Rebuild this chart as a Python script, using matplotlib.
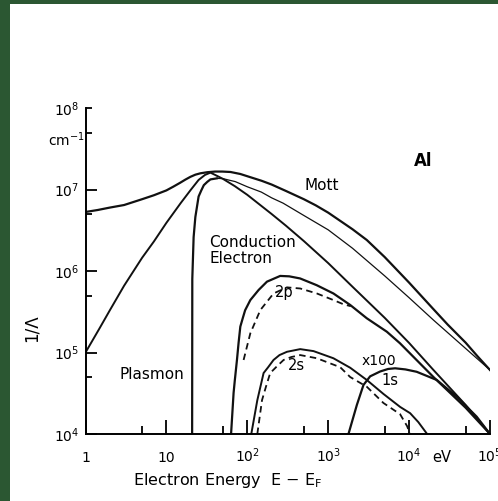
import matplotlib
matplotlib.use("Agg")
import matplotlib.pyplot as plt
from matplotlib.patches import Rectangle

# ---- inverse inelastic mean free path of electrons in Al (cm^-1) ----
mott_E = [1, 1.41, 2, 3, 5, 7, 10, 12.2, 14.8, 17.1, 19.8, 22.8, 26.3, 32,
          40, 49, 62, 82, 108, 150, 200, 300, 500, 700, 1000, 2000, 3000,
          5000, 1e4, 2e4, 3e4, 5e4, 7e4, 1e5]
mott_val = [5.3e6, 5.6e6, 6.0e6, 6.45e6, 7.6e6, 8.5e6, 9.75e6, 1.085e7,
            1.21e7, 1.32e7, 1.43e7, 1.52e7, 1.58e7, 1.63e7, 1.66e7, 1.66e7,
            1.64e7, 1.55e7, 1.42e7, 1.28e7, 1.15e7, 9.6e6, 7.6e6, 6.4e6,
            5.2e6, 3.25e6, 2.4e6, 1.48e6, 7.2e5, 3.4e5, 2.2e5, 1.32e5, 9.0e4,
            6.1e4]

plasmon_E = [20.8, 20.9, 21.7, 22.8, 25, 27, 29, 32, 35, 42, 50, 60, 71, 100,
             149, 200, 277, 500, 1000, 2000, 5000, 1e4, 2e4, 5e4, 1e5]
plasmon_val = [1e4, 8e5, 2.6e6, 4.6e6, 8.2e6, 9.75e6, 1.13e7, 1.24e7, 1.33e7,
               1.37e7, 1.36e7, 1.30e7, 1.25e7, 1.08e7, 9.3e6, 7.9e6, 6.8e6,
               4.8e6, 3.2e6, 1.9e6, 8.7e5, 4.7e5, 2.5e5, 1.12e5, 6.1e4]
plasmon_peak_index = 9

cond_E = [1, 1.5, 2, 3, 5, 7, 10, 15, 20, 25, 30, 35, 40, 50, 70, 100, 200,
          300, 500, 1000, 2000, 5000, 1e4, 2e4, 5e4, 1e5]
cond_val = [1.0e5, 2.0e5, 3.3e5, 6.6e5, 1.45e6, 2.3e6, 3.9e6, 6.8e6, 9.9e6,
            1.31e7, 1.51e7, 1.61e7, 1.51e7, 1.35e7, 1.10e7, 8.6e6, 5.0e6,
            3.6e6, 2.33e6, 1.25e6, 6.4e5, 2.66e5, 1.31e5, 6.1e4, 2.27e4, 1.0e4]

p2_E = [63, 67.7, 70, 74.5, 78, 82, 88, 94, 109, 138, 175, 255, 330, 450,
        720, 1160, 1870, 3000, 5300, 7700, 2e4, 5e4, 1e5]
p2_val = [1e4, 3.2e4, 4.5e4, 8.1e4, 1.31e5, 2.08e5, 2.65e5, 3.3e5, 4.4e5,
          5.85e5, 7.4e5, 8.7e5, 8.6e5, 8.1e5, 6.7e5, 5.3e5, 3.83e5, 2.63e5,
          1.8e5, 1.3e5, 5.0e4, 2.1e4, 1e4]

p2_dash_E = [90, 109, 145, 211, 309, 451, 724, 1160, 1550, 1900]
p2_dash_val = [8.1e4, 1.72e5, 3.32e5, 5.3e5, 6.3e5, 6.1e5, 5.3e5, 4.4e5,
               3.9e5, 3.7e5]

s2_E = [112, 133, 159, 180, 211, 250, 309, 451, 659, 1160, 1870, 3000, 4820,
        7740, 10300, 13000, 16700]
s2_val = [1e4, 2.6e4, 5.6e4, 6.55e4, 8.1e4, 9.3e4, 1.02e5, 1.10e5, 1.04e5,
          8.5e4, 6.5e4, 4.6e4, 3.1e4, 2.15e4, 1.8e4, 1.4e4, 1e4]

s2_dash_E = [133, 152, 170, 192, 230, 281, 350, 451, 724, 1406, 1870, 3000,
             4820, 7740, 9440, 10280]
s2_dash_val = [1e4, 2.6e4, 3.8e4, 5.6e4, 6.7e4, 8.1e4, 8.8e4, 9.3e4, 8.5e4,
               6.6e4, 5.0e4, 3.8e4, 2.4e4, 1.75e4, 1.25e4, 1e4]

s1_E = [1780, 2260, 2730, 3300, 4390, 5500, 6720, 9000, 12400, 22000, 38800,
        68500, 1e5]
s1_val = [1e4, 2.27e4, 4.0e4, 5.1e4, 5.85e4, 6.28e4, 6.4e4, 6.2e4, 5.8e4,
          4.6e4, 2.87e4, 1.63e4, 1e4]

x_major = [1, 10, 100, 1e3, 1e4, 1e5]
x_labels = ["1", "10", "$10^2$", "$10^3$", "$10^4$", "$10^5$"]
x_minor = [5, 50, 500, 5e3, 5e4]
y_major = [1e4, 1e5, 1e6, 1e7, 1e8]
y_labels = ["$10^4$", "$10^5$", "$10^6$", "$10^7$", "$10^8$"]
y_minor = [5e4, 5e5, 5e6, 5e7]

W, H = 498, 501
fig = plt.figure(figsize=(W / 100, H / 100), dpi=100, facecolor="#2b5732")
fig.add_artist(Rectangle((10 / W, 0), 1, 1 - 4 / H, transform=fig.transFigure,
                         facecolor="white", edgecolor="none", zorder=0))

ax = fig.add_axes([85.5 / W, 67 / H, (490 - 85.5) / W, (434 - 108) / H])
ax.set_facecolor("none")
ax.set_xscale("log")
ax.set_yscale("log")
ax.set_xlim(1, 1e5)
ax.set_ylim(1e4, 1e8)
for side in ("top", "right"):
    ax.spines[side].set_visible(False)
for side in ("left", "bottom"):
    ax.spines[side].set_linewidth(1.4)
    ax.spines[side].set_color("black")

ink = "#111111"
dash = (0, (3.6, 2.4))
ax.plot(mott_E, mott_val, color=ink, lw=1.6)
ax.plot(plasmon_E[:plasmon_peak_index + 1], plasmon_val[:plasmon_peak_index + 1],
        color=ink, lw=1.6)
ax.plot(plasmon_E[plasmon_peak_index:], plasmon_val[plasmon_peak_index:],
        color=ink, lw=0.9)
ax.plot(cond_E, cond_val, color=ink, lw=1.4)
ax.plot(p2_E, p2_val, color=ink, lw=1.6)
ax.plot(p2_dash_E, p2_dash_val, color=ink, lw=1.3, linestyle=dash)
ax.plot(s2_E, s2_val, color=ink, lw=1.4)
ax.plot(s2_dash_E, s2_dash_val, color=ink, lw=1.3, linestyle=dash)
ax.plot(s1_E, s1_val, color=ink, lw=1.6)

ax.tick_params(axis="x", which="major", direction="in", length=10, width=1.3,
               pad=20, labelsize=10)
ax.tick_params(axis="x", which="minor", direction="in", length=5.8, width=1.3)
ax.tick_params(axis="y", which="major", direction="in", length=8, width=1.3,
               pad=4.3, labelsize=10)
ax.tick_params(axis="y", which="minor", direction="in", length=4.3, width=1.3)

ax.set_xticks(x_major)
ax.set_xticklabels(x_labels, va="baseline")
ax.set_xticks(x_minor, minor=True)
ax.set_xticklabels([], minor=True)
ax.set_yticks(y_major)
ax.set_yticklabels(y_labels)
ax.set_yticks(y_minor, minor=True)
ax.set_yticklabels([], minor=True)
ax.yaxis.get_major_ticks()[-1].tick1line.set_markersize(4.3)

# annotations
ax.text(-0.002, 0.902, "cm$^{-1}$", transform=ax.transAxes, ha="right",
        va="center", fontsize=10)
ax.text(0.881, -0.086, "eV", transform=ax.transAxes, ha="center",
        va="baseline", fontsize=10.5)
ax.text(0.835, 0.837, "Al", transform=ax.transAxes, ha="center", va="center",
        fontsize=12, fontweight="bold")
ax.text(0.585, 0.761, "Mott", transform=ax.transAxes, ha="center",
        va="center", fontsize=11)
ax.text(0.306, 0.563, "Conduction\nElectron", transform=ax.transAxes,
        ha="left", va="center", fontsize=11, linespacing=1.05)
ax.text(0.163, 0.184, "Plasmon", transform=ax.transAxes, ha="center",
        va="center", fontsize=11)
ax.text(0.491, 0.433, "2p", transform=ax.transAxes, ha="center", va="center",
        fontsize=10.5)
ax.text(0.521, 0.209, "2s", transform=ax.transAxes, ha="center", va="center",
        fontsize=10.5)
ax.text(0.726, 0.224, "x100", transform=ax.transAxes, ha="center",
        va="center", fontsize=10)
ax.text(0.753, 0.163, "1s", transform=ax.transAxes, ha="center", va="center",
        fontsize=10.5)

fig.text(133 / W, 1 - 485 / H, "Electron Energy  E − E$_\\mathrm{F}$",
         ha="left", va="baseline", fontsize=11.5)
fig.text(32 / W, 1 - 328 / H, "1/Λ", rotation=90, ha="center", va="center",
         fontsize=12)

fig.savefig("out.png", dpi=100, facecolor=fig.get_facecolor())
